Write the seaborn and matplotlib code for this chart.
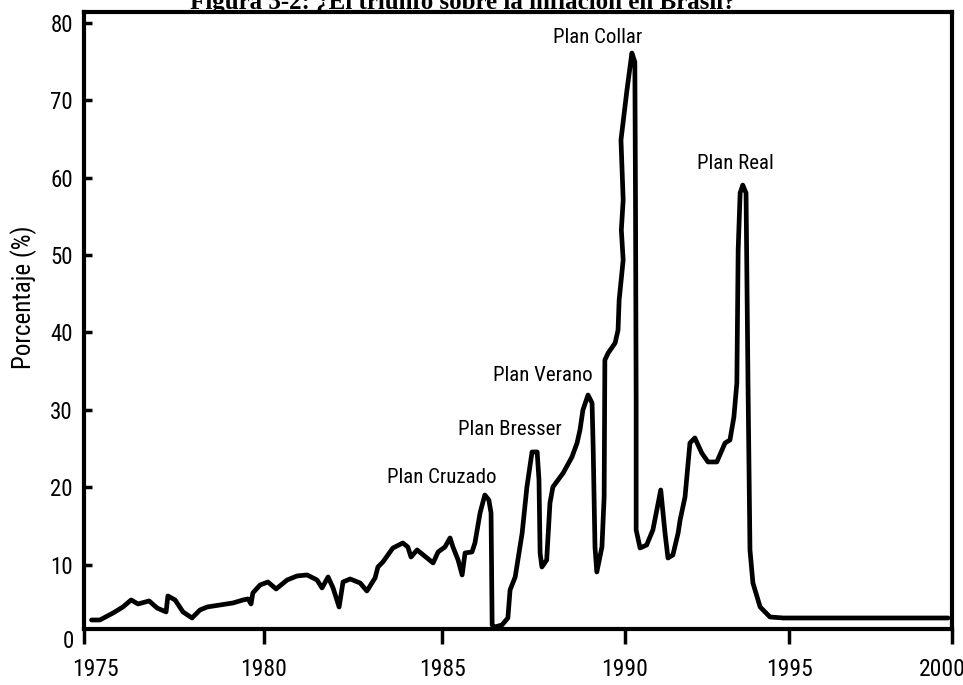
import matplotlib
matplotlib.use("Agg")
import numpy as np
import matplotlib.pyplot as plt
import matplotlib.transforms as mtransforms
import seaborn as sns

# inflacion mensual en Brasil (%)
years = [
    1975.21, 1975.44, 1975.81, 1976.08, 1976.31, 1976.50, 1976.81, 1977.03, 1977.28, 1977.33,
    1977.53, 1977.75, 1978.00, 1978.22, 1978.42, 1978.78, 1979.14, 1979.42, 1979.56, 1979.64,
    1979.69, 1979.89, 1980.11, 1980.34, 1980.65, 1980.93, 1981.21, 1981.49, 1981.63, 1981.80,
    1981.94, 1982.11, 1982.22, 1982.42, 1982.70, 1982.89, 1983.12, 1983.20, 1983.34, 1983.62,
    1983.90, 1984.04, 1984.13, 1984.30, 1984.58, 1984.75, 1984.89, 1985.08, 1985.22, 1985.30,
    1985.44, 1985.55, 1985.63, 1985.82, 1985.90, 1986.04, 1986.17, 1986.28, 1986.34, 1986.37,
    1986.45, 1986.64, 1986.80, 1986.86, 1987.00, 1987.19, 1987.32, 1987.46, 1987.60, 1987.65,
    1987.68, 1987.73, 1987.86, 1987.95, 1988.03, 1988.31, 1988.55, 1988.69, 1988.77, 1988.85,
    1988.99, 1989.10, 1989.13, 1989.18, 1989.23, 1989.37, 1989.43, 1989.45, 1989.54, 1989.73,
    1989.81, 1989.84, 1989.95, 1989.90, 1989.95, 1989.89, 1990.06, 1990.21, 1990.30, 1990.32,
    1990.34, 1990.34, 1990.46, 1990.66, 1990.85, 1991.09, 1991.22, 1991.31, 1991.46, 1991.62,
    1991.68, 1991.83, 1991.98, 1992.13, 1992.34, 1992.53, 1992.80, 1993.05, 1993.20, 1993.32,
    1993.41, 1993.45, 1993.51, 1993.59, 1993.69, 1993.75, 1993.81, 1993.90, 1994.12, 1994.42,
    1994.82, 1995.34, 1999.88,
]
inflation = [
    2.84, 2.84, 3.75, 4.52, 5.43, 4.91, 5.30, 4.39, 3.88, 5.94,
    5.43, 3.88, 3.10, 4.13, 4.52, 4.78, 5.04, 5.43, 5.56, 4.91,
    6.33, 7.36, 7.75, 6.85, 8.01, 8.53, 8.66, 8.01, 6.98, 8.40,
    6.98, 4.52, 7.75, 8.14, 7.62, 6.59, 8.27, 9.69, 10.34, 12.14,
    12.79, 12.27, 10.98, 11.89, 10.85, 10.21, 11.63, 12.27, 13.44, 12.27,
    10.59, 8.66, 11.50, 11.63, 12.79, 16.67, 18.99, 18.35, 16.67, 2.20,
    1.94, 2.20, 3.10, 6.72, 8.40, 14.08, 20.03, 24.55, 24.55, 20.93,
    11.50, 9.69, 10.59, 17.96, 20.03, 21.83, 23.90, 25.71, 27.39, 29.97,
    31.91, 30.88, 25.19, 12.27, 9.04, 12.27, 18.73, 36.43, 37.34, 38.63,
    40.31, 44.19, 49.35, 53.23, 57.11, 64.86, 71.32, 76.10, 74.94, 57.11,
    31.27, 14.47, 12.14, 12.53, 14.47, 19.64, 14.08, 10.85, 11.24, 14.08,
    15.76, 18.73, 25.71, 26.36, 24.42, 23.26, 23.26, 25.71, 26.10, 29.07,
    33.46, 50.65, 58.01, 59.04, 58.01, 33.46, 11.89, 7.62, 4.52, 3.23,
    3.10, 3.10, 3.10,
]

plan_names = ["Plan Cruzado", "Plan Bresser", "Plan Verano", "Plan Collar", "Plan Real"]
plan_x = [1985.00, 1986.86, 1987.76, 1989.26, 1993.35]
plan_y = [21.2, 27.5, 34.4, 78.1, 61.8]

x_ticks = [1975, 1980, 1985, 1990, 1995, 2000]
y_ticks = [10, 20, 30, 40, 50, 60, 70, 80]

# el eje del original escaneado no es uniforme: distancia entre marcas
x_tick_spacing = [0, 180, 358, 541, 705, 868]


def fwd(v):
    return np.interp(v, x_ticks, x_tick_spacing)


def inv(v):
    return np.interp(v, x_tick_spacing, x_ticks)


sns.set_style("ticks")
plt.rcParams['font.family'] = ['Liberation Sans Narrow', 'Roboto Condensed', 'DejaVu Sans']
plt.rcParams['font.stretch'] = 'condensed'
for key in ['text.color', 'axes.labelcolor', 'xtick.color', 'ytick.color']:
    plt.rcParams[key] = 'black'

fig = plt.figure(figsize=(9.63, 6.85), dpi=100)
ax = fig.add_axes([84 / 963, 1 - 628.5 / 685, 868 / 963, 616.5 / 685])
ax.set_xscale("function", functions=(fwd, inv))

sns.lineplot(x=years, y=inflation, sort=False, estimator=None, color="black",
             linewidth=3.4, ax=ax, solid_joinstyle="round", solid_capstyle="round")

for name, px, py in zip(plan_names, plan_x, plan_y):
    ax.text(px, py, name, ha="center", va="center", fontsize=15)

ax.set_xlim(1975, 2000)
ax.set_ylim(1.74, 81.4)
ax.set_xticks(x_ticks)
ax.set_xticks([], minor=True)
ax.set_yticks(y_ticks)
ax.set_xticklabels([str(t) for t in x_ticks])
ax.tick_params(axis="y", direction="in", length=6, width=2.5, labelsize=16.5, pad=8)
ax.tick_params(axis="x", direction="out", length=11, width=2.5, labelsize=17, pad=10)
# el cero del eje y queda por debajo de la linea base
ax.text(-0.012, 0, "0", transform=ax.get_yaxis_transform(), ha="right", va="center",
        fontsize=16.5, clip_on=False)

# primera y ultima etiqueta desplazadas como en el original
labels = ax.get_xticklabels()
labels[0].set_transform(labels[0].get_transform() + mtransforms.ScaledTranslation(0.11, 0, fig.dpi_scale_trans))
labels[-1].set_transform(labels[-1].get_transform() + mtransforms.ScaledTranslation(-0.1, 0, fig.dpi_scale_trans))

for side in ["left", "right", "top", "bottom"]:
    ax.spines[side].set_linewidth(3)
    ax.spines[side].set_color("black")

ax.set_xlabel("")
ax.set_ylabel("Porcentaje (%)", fontsize=18)
ax.yaxis.set_label_coords(-0.054, 0.538)

fig.text(463 / 963, 1 - 9 / 685, "Figura 3-2: ¿El triunfo sobre la inflación en Brasil?",
         ha="center", va="baseline", fontsize=18, fontweight="bold",
         family=["Liberation Serif", "DejaVu Serif"], stretch="normal")

fig.savefig("out.png", dpi=100)
